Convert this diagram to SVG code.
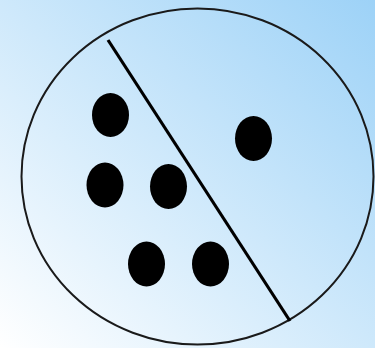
<svg xmlns="http://www.w3.org/2000/svg" width="375" height="348" viewBox="0 0 375 348">
  <defs>
    <linearGradient id="bg" x1="0" y1="1" x2="1" y2="0">
      <stop offset="0" stop-color="#ffffff"/>
      <stop offset="1" stop-color="#9dd2f7"/>
    </linearGradient>
    <style>
      .dot { fill: #000; }
      .outline { fill: none; stroke: #1a1a1a; stroke-width: 2; }
      .divider { stroke: #000; stroke-width: 3.2; }
    </style>
  </defs>
  <rect x="0" y="0" width="375" height="348" fill="url(#bg)"/>
  <g id="circle">
    <ellipse class="outline" cx="197.5" cy="176.5" rx="176" ry="168"/>
  </g>
  <g id="connectors">
    <line class="divider" x1="108" y1="40" x2="290" y2="321"/>
  </g>
  <g id="dot1"><ellipse class="dot" cx="110.5" cy="115" rx="18.5" ry="22"/></g>
  <g id="dot2"><ellipse class="dot" cx="253.5" cy="138.5" rx="18.5" ry="22.5"/></g>
  <g id="dot3"><ellipse class="dot" cx="105" cy="185" rx="18.5" ry="22.5"/></g>
  <g id="dot4"><ellipse class="dot" cx="168.5" cy="186.5" rx="18.5" ry="22.5"/></g>
  <g id="dot5"><ellipse class="dot" cx="146.5" cy="264" rx="18.5" ry="22.5"/></g>
  <g id="dot6"><ellipse class="dot" cx="210.5" cy="264" rx="18.5" ry="22.5"/></g>
</svg>
